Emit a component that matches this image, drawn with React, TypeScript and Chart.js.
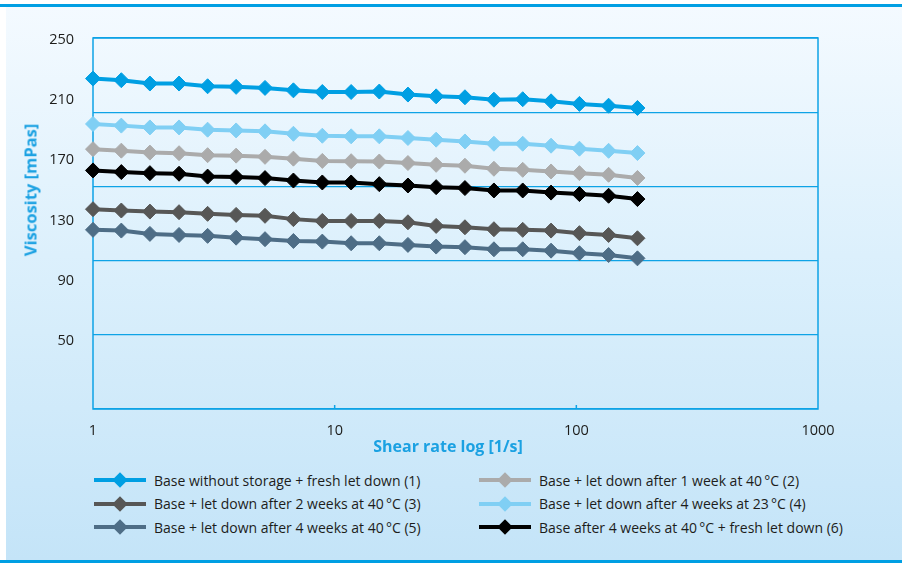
import { useEffect, useRef } from "react";
import { Chart, registerables } from "chart.js";

Chart.register(...registerables);

// Shear rates [1/s] of the measuring points
const shearRates = [1, 1.31, 1.72, 2.27, 2.98, 3.91, 5.15, 6.75, 8.89, 11.7, 15.3, 20.1, 26.3, 34.6, 45.6, 60, 78.6, 103, 136, 179];

// Viscosity [mPas] per sample
const freshLetDown = [224.1, 223.0, 220.8, 220.8, 219.0, 218.6, 217.9, 216.3, 215.2, 215.2, 215.5, 213.5, 212.3, 211.7, 210.1, 210.4, 209.0, 207.3, 206.1, 204.6];
const oneWeekAt40 = [177.3, 176.3, 175.0, 174.6, 173.3, 173.0, 172.2, 171.0, 169.5, 169.3, 169.1, 168.1, 166.9, 166.3, 164.3, 163.6, 162.5, 161.4, 160.3, 158.2];
const twoWeeksAt40 = [137.5, 136.6, 135.9, 135.5, 134.4, 133.7, 133.1, 130.9, 129.7, 129.7, 129.7, 128.8, 126.4, 125.5, 124.2, 123.8, 123.3, 121.6, 120.4, 118.2];
const fourWeeksAt23 = [194.0, 192.9, 191.7, 191.7, 190.2, 189.7, 189.1, 187.5, 186.2, 185.8, 185.8, 184.7, 183.6, 182.4, 180.9, 180.9, 179.6, 177.6, 176.2, 174.7];
const fourWeeksAt40 = [123.8, 123.3, 121.1, 120.4, 119.8, 118.6, 117.6, 116.4, 116.0, 114.9, 114.9, 113.8, 112.7, 112.3, 110.9, 110.9, 110.0, 108.3, 107.1, 104.9];
const storedBaseFresh = [163.2, 162.1, 161.4, 161.0, 159.1, 158.8, 158.1, 156.5, 155.2, 155.2, 154.1, 153.2, 152.1, 151.5, 149.9, 149.9, 148.5, 147.5, 146.4, 144.2];

const seriesLabels = [
  "Base without storage + fresh let down (1)",
  "Base + let down after 1 week at 40\u2009°C (2)",
  "Base + let down after 2 weeks at 40\u2009°C (3)",
  "Base + let down after 4 weeks at 23\u2009°C (4)",
  "Base + let down after 4 weeks at 40\u2009°C (5)",
  "Base after 4 weeks at 40\u2009°C + fresh let down (6)",
];
const seriesValues = [freshLetDown, oneWeekAt40, twoWeeksAt40, fourWeeksAt23, fourWeeksAt40, storedBaseFresh];
const seriesColors = ["#009fe3", "#ababab", "#575756", "#80cff4", "#4e6d86", "#000000"];

// Axis ticks
const xTicks = [1, 10, 100, 1000];
const yTicks = [50, 90, 130, 170, 210, 250];
const yGridLines = [50, 90, 130, 170, 210, 250];

const frameBlue = "#0ea3e6";
const titleBlue = "#1ba1e2";
const textDark = "#1d1d1b";
const fontFamily = "'Open Sans', 'Noto Sans', sans-serif";

// Frame around the plot area and the small inner ticks on the shear-rate axis
const framePlugin = {
  id: "plotFrame",
  beforeDatasetsDraw(chart: any) {
    const { ctx, chartArea: a, scales } = chart;
    ctx.save();
    ctx.strokeStyle = frameBlue;
    ctx.lineWidth = 1.5;
    ctx.strokeRect(a.left, a.top, a.right - a.left, a.bottom - a.top);
    const xs = scales.x;
    ctx.beginPath();
    for (const t of xs.ticks) {
      const px = xs.getPixelForValue(t.value);
      if (px > a.left + 2 && px < a.right - 2) {
        ctx.moveTo(px, a.bottom);
        ctx.lineTo(px, a.bottom - 4);
      }
    }
    ctx.stroke();
    ctx.restore();
  },
};

function Swatch({ color }: { color: string }) {
  return (
    <div style={{ position: "relative", width: 52, height: 20, flex: "0 0 52px" }}>
      <div style={{ position: "absolute", left: 0, right: 0, top: 8, height: 4, background: color }} />
      <div
        style={{
          position: "absolute",
          left: "50%",
          top: "50%",
          width: 11,
          height: 11,
          background: color,
          transform: "translate(-50%, -50%) rotate(45deg)",
        }}
      />
    </div>
  );
}

export default function App() {
  const canvasRef = useRef<HTMLCanvasElement | null>(null);

  useEffect(() => {
    const canvas = canvasRef.current;
    if (!canvas) return;
    const chart = new Chart(canvas, {
      type: "line",
      data: {
        labels: shearRates,
        datasets: seriesValues.map((vals, i) => ({
          label: seriesLabels[i],
          data: vals.map((v, j) => ({ x: shearRates[j], y: v })),
          borderColor: seriesColors[i],
          backgroundColor: seriesColors[i],
          borderWidth: 4,
          pointStyle: "rectRot",
          pointRadius: 7.5,
          pointBorderWidth: 1,
          pointBorderColor: seriesColors[i],
          pointBackgroundColor: seriesColors[i],
          tension: 0,
          clip: false,
        })),
      },
      options: {
        animation: false,
        responsive: false,
        layout: { padding: { top: 38, right: 84, left: 0, bottom: 0 } },
        plugins: {
          legend: { display: false },
          tooltip: { enabled: false },
        },
        scales: {
          x: {
            type: "logarithmic",
            min: 1,
            max: 1000,
            afterBuildTicks: (scale: any) => {
              scale.ticks = xTicks.map((v) => ({ value: v }));
            },
            afterFit: (scale: any) => {
              scale.height = 61;
            },
            grid: { display: false },
            border: { display: false },
            ticks: {
              color: textDark,
              padding: 5,
              maxRotation: 0,
              autoSkip: false,
              font: { family: fontFamily, size: 14.5 },
              callback: (v: any) => String(v),
            },
          },
          y: {
            type: "linear",
            position: "left",
            min: 5,
            max: 251,
            afterBuildTicks: (scale: any) => {
              scale.ticks = yTicks.map((v) => ({ value: v }));
            },
            afterFit: (scale: any) => {
              scale.width = 93;
            },
            grid: { display: false },
            border: { display: false },
            ticks: {
              color: textDark,
              padding: 11,
              font: { family: fontFamily, size: 14.5 },
              callback: (v: any) => String(v),
            },
          },
          yGrid: {
            type: "linear",
            position: "left",
            min: 50,
            max: 250,
            afterBuildTicks: (scale: any) => {
              scale.ticks = yGridLines.map((v) => ({ value: v }));
            },
            afterFit: (scale: any) => {
              scale.width = 0;
            },
            grid: { color: frameBlue, lineWidth: 1.3, drawTicks: false },
            border: { display: false },
            ticks: { display: false },
          },
        },
      } as any,
      plugins: [framePlugin],
    });
    return () => chart.destroy();
  }, []);

  return (
    <div style={{ position: "absolute", left: 0, top: 0, width: 902, height: 563, background: "#ffffff", overflow: "hidden", fontFamily }}>
      <div style={{ position: "absolute", left: 6, right: 0, top: 6, bottom: 3, background: "linear-gradient(to bottom, #f4faff 0%, #dcf0fc 45%, #c4e4f8 100%)" }} />
      <div style={{ position: "absolute", left: 0, right: 0, top: 4, height: 3, background: "#009fe3" }} />
      <div style={{ position: "absolute", left: 0, right: 0, top: 560, height: 3, background: "#009fe3" }} />
      <canvas ref={canvasRef} width={902} height={470} style={{ position: "absolute", left: 0, top: 0, width: 902, height: 470 }} />
      <div
        style={{
          position: "absolute",
          left: 30,
          top: 190,
          transform: "translate(-50%, -50%) rotate(-90deg)",
          whiteSpace: "nowrap",
          color: titleBlue,
          fontWeight: 700,
          fontSize: 16.5,
        }}
      >
        Viscosity [mPas]
      </div>
      <div
        style={{
          position: "absolute",
          left: 448,
          top: 446,
          transform: "translate(-50%, -50%)",
          whiteSpace: "nowrap",
          color: titleBlue,
          fontWeight: 700,
          fontSize: 16,
        }}
      >
        Shear rate log [1/s]
      </div>
      <div
        style={{
          position: "absolute",
          left: 94,
          top: 470,
          width: 770,
          display: "grid",
          gridTemplateColumns: "385px 385px",
          rowGap: 3.5,
        }}
      >
        {seriesLabels.map((label, i) => (
          <div key={label} style={{ display: "flex", alignItems: "center", height: 20 }}>
            <Swatch color={seriesColors[i]} />
            <span style={{ marginLeft: 8, fontSize: 14, color: textDark, whiteSpace: "nowrap" }}>{label}</span>
          </div>
        ))}
      </div>
    </div>
  );
}
